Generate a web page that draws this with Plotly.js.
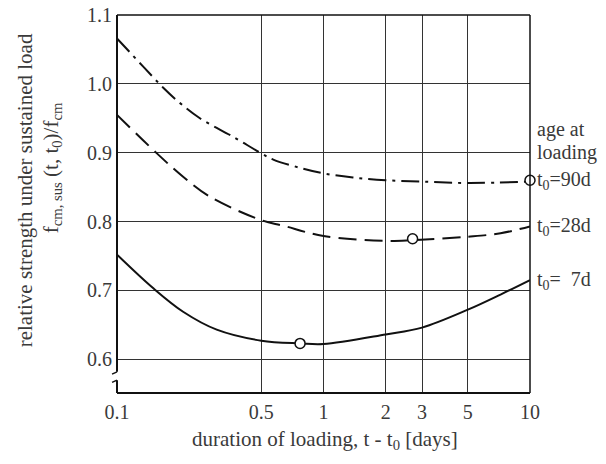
<!DOCTYPE html>
<html>
<head>
<meta charset="utf-8">
<script src="https://cdn.plot.ly/plotly-3.0.1.min.js"></script>
<style>html,body{margin:0;padding:0;background:#fff;}#chart{width:606px;height:464px;}</style>
</head>
<body>
<div id="chart"></div>
<script>
// Data
const t90 = [0.1, 0.134, 0.168, 0.202, 0.252, 0.366, 0.5, 0.571, 0.77, 1, 1.39, 2, 3, 5, 10];
const v90 = [1.066, 1.025, 0.994, 0.972, 0.950, 0.923, 0.899, 0.890, 0.878, 0.870, 0.864, 0.860, 0.858, 0.856, 0.858];
const t28 = [0.1, 0.156, 0.209, 0.282, 0.5, 0.638, 1, 2, 2.7, 5, 7.2, 10];
const v28 = [0.955, 0.899, 0.865, 0.836, 0.802, 0.794, 0.779, 0.772, 0.773, 0.778, 0.783, 0.793];
const t7 = [0.1, 0.15, 0.209, 0.304, 0.5, 0.77, 1, 2, 3, 5, 7.2, 10];
const v7 = [0.752, 0.703, 0.669, 0.643, 0.627, 0.623, 0.622, 0.636, 0.646, 0.672, 0.694, 0.715];
const minT = [0.77, 2.7, 10];
const minV = [0.623, 0.775, 0.860];
const xTicks = [0.1, 0.5, 1, 2, 3, 5, 10];
const xTickText = ['0.1', '0.5', '1', '2', '3', '5', '10'];
const yTicks = [0.6, 0.7, 0.8, 0.9, 1.0, 1.1];
const yTickText = ['0.6', '0.7', '0.8', '0.9', '1.0', '1.1'];
const seriesLabels = ['t<sub>0</sub>=90d', 't<sub>0</sub>=28d', 't<sub>0</sub>=  7d'];
const seriesEnd = [0.860, 0.793, 0.715];

const FONT = 'Liberation Serif';
const TXT = '#3a3a3a';
const FS = 20;
const FT = 21;

const traces = [
  {x: t90, y: v90, mode: 'lines', line: {color: '#111', width: 2, dash: '18px,6px,3px,6px', shape: 'spline'}},
  {x: t28, y: v28, mode: 'lines', line: {color: '#111', width: 2, dash: '18px,8px', shape: 'spline'}},
  {x: t7, y: v7, mode: 'lines', line: {color: '#111', width: 2, shape: 'spline'}},
  {x: minT, y: minV, mode: 'markers', marker: {symbol: 'circle', size: 10, color: '#fff', line: {color: '#111', width: 1.5}}, cliponaxis: false}
];

const annotations = [
  {xref: 'paper', yref: 'paper', x: 1.012, y: 0.696, xanchor: 'left', yanchor: 'middle', text: 'age at', showarrow: false, font: {family: FONT, size: FS, color: TXT}},
  {xref: 'paper', yref: 'paper', x: 1.012, y: 0.635, xanchor: 'left', yanchor: 'middle', text: 'loading', showarrow: false, font: {family: FONT, size: FS, color: TXT}},
  {xref: 'paper', yref: 'paper', x: -0.222, y: 0.537, xanchor: 'center', yanchor: 'middle', textangle: -90, text: 'relative strength under sustained load', showarrow: false, font: {family: FONT, size: FT, color: TXT}},
  {xref: 'paper', yref: 'paper', x: -0.157, y: 0.595, xanchor: 'center', yanchor: 'middle', textangle: -90, text: 'f<sub>cm, sus</sub> (t, t<sub>0</sub>)/f<sub>cm</sub>', showarrow: false, font: {family: FONT, size: FT, color: TXT}},
  {xref: 'paper', yref: 'paper', x: 0.504, y: -0.124, xanchor: 'center', yanchor: 'middle', text: 'duration of loading, t - t<sub>0</sub> [days]', showarrow: false, font: {family: FONT, size: FT, color: TXT}}
];
seriesLabels.forEach((s, i) => {
  annotations.push({xref: 'paper', yref: 'y', x: 1.012, y: seriesEnd[i], xanchor: 'left', yanchor: 'middle', text: s, showarrow: false, font: {family: FONT, size: FS, color: TXT}});
});

const yb1 = 0.056, yb2 = 0.034;
const shapes = [
  {type: 'line', xref: 'paper', yref: 'paper', x0: 0, x1: 1, y0: 1, y1: 1, line: {color: '#111', width: 1.5}},
  {type: 'line', xref: 'paper', yref: 'paper', x0: 1, x1: 1, y0: 0, y1: 1, line: {color: '#111', width: 1.5}},
  {type: 'line', xref: 'paper', yref: 'paper', x0: 0, x1: 1, y0: 0, y1: 0, line: {color: '#111', width: 2}},
  {type: 'line', xref: 'paper', yref: 'paper', x0: 0, x1: 0, y0: yb1, y1: 1, line: {color: '#111', width: 2}},
  {type: 'line', xref: 'paper', yref: 'paper', x0: 0, x1: 0, y0: 0, y1: yb2, line: {color: '#111', width: 2}},
  {type: 'line', xref: 'paper', yref: 'paper', x0: 0, x1: -0.012, y0: yb1, y1: yb1 - 0.006, line: {color: '#111', width: 1.5}},
  {type: 'line', xref: 'paper', yref: 'paper', x0: 0, x1: -0.012, y0: yb2, y1: yb2 - 0.006, line: {color: '#111', width: 1.5}}
];

const layout = {
  width: 606, height: 464,
  margin: {l: 117, r: 76, t: 15, b: 71},
  paper_bgcolor: '#fff', plot_bgcolor: '#fff',
  showlegend: false,
  font: {family: FONT, size: FS, color: TXT},
  xaxis: {type: 'log', range: [-1, 1], tickvals: xTicks, ticktext: xTickText, showgrid: true, gridcolor: '#333', gridwidth: 1,
          zeroline: false, showline: false, ticks: '', ticklabelstandoff: 5, tickfont: {family: FONT, size: FS, color: TXT}},
  yaxis: {range: [0.551, 1.1], tickvals: yTicks, ticktext: yTickText, showgrid: true, gridcolor: '#333', gridwidth: 1,
          zeroline: false, showline: false, ticks: '', ticklabelstandoff: 4, tickfont: {family: FONT, size: FS, color: TXT}},
  annotations: annotations,
  shapes: shapes
};

Plotly.newPlot('chart', traces, layout, {displayModeBar: false, staticPlot: true});
</script>
</body>
</html>
